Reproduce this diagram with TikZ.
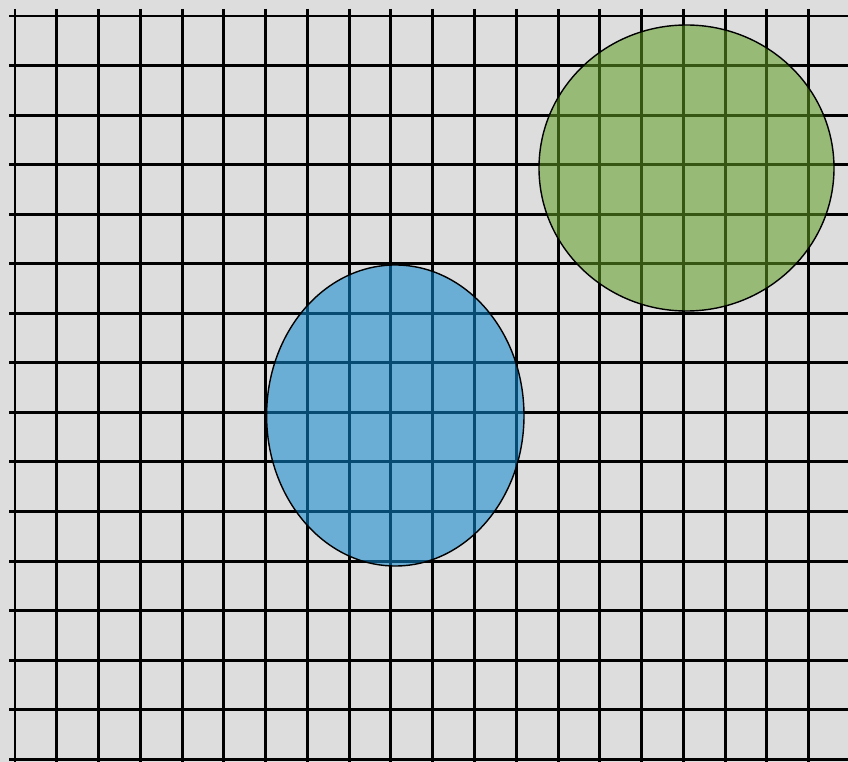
\documentclass[tikz,border=0pt]{standalone}
\usepackage{xcolor}
\usepackage{tikz}
\definecolor{paper}{HTML}{DDDDDD}
\definecolor{zoneblue}{HTML}{0E88D0}
\definecolor{zonegreen}{HTML}{619F24}

\begin{document}
\begin{tikzpicture}[
    x=0.2mm,y=-0.2mm,
    gridline/.style={draw=black,line width=1.7pt},
    zone/.style={draw=black,line width=0.8pt,fill opacity=0.55},
    bluezone/.style={zone,fill=zoneblue},
    greenzone/.style={zone,fill=zonegreen}
  ]
    \fill[paper] (0,0) rectangle (848,762);
    \useasboundingbox (0,0) rectangle (848,762);
    \begin{scope}
      \clip (0,0) rectangle (848,762);
      \foreach \i in {0,...,19}
        \draw[gridline] ({15+41.77*\i},9) -- ({15+41.77*\i},770);
      \foreach \j in {0,...,15}
        \draw[gridline] (9,{16+49.55*\j}) -- (860,{16+49.55*\j});
    \end{scope}

    \draw[bluezone] (395.3,415.5) ellipse [x radius=128.7,y radius=150.5];
    \draw[greenzone] (686.5,168) ellipse [x radius=147.5,y radius=143];
  \end{tikzpicture}
\end{document}
